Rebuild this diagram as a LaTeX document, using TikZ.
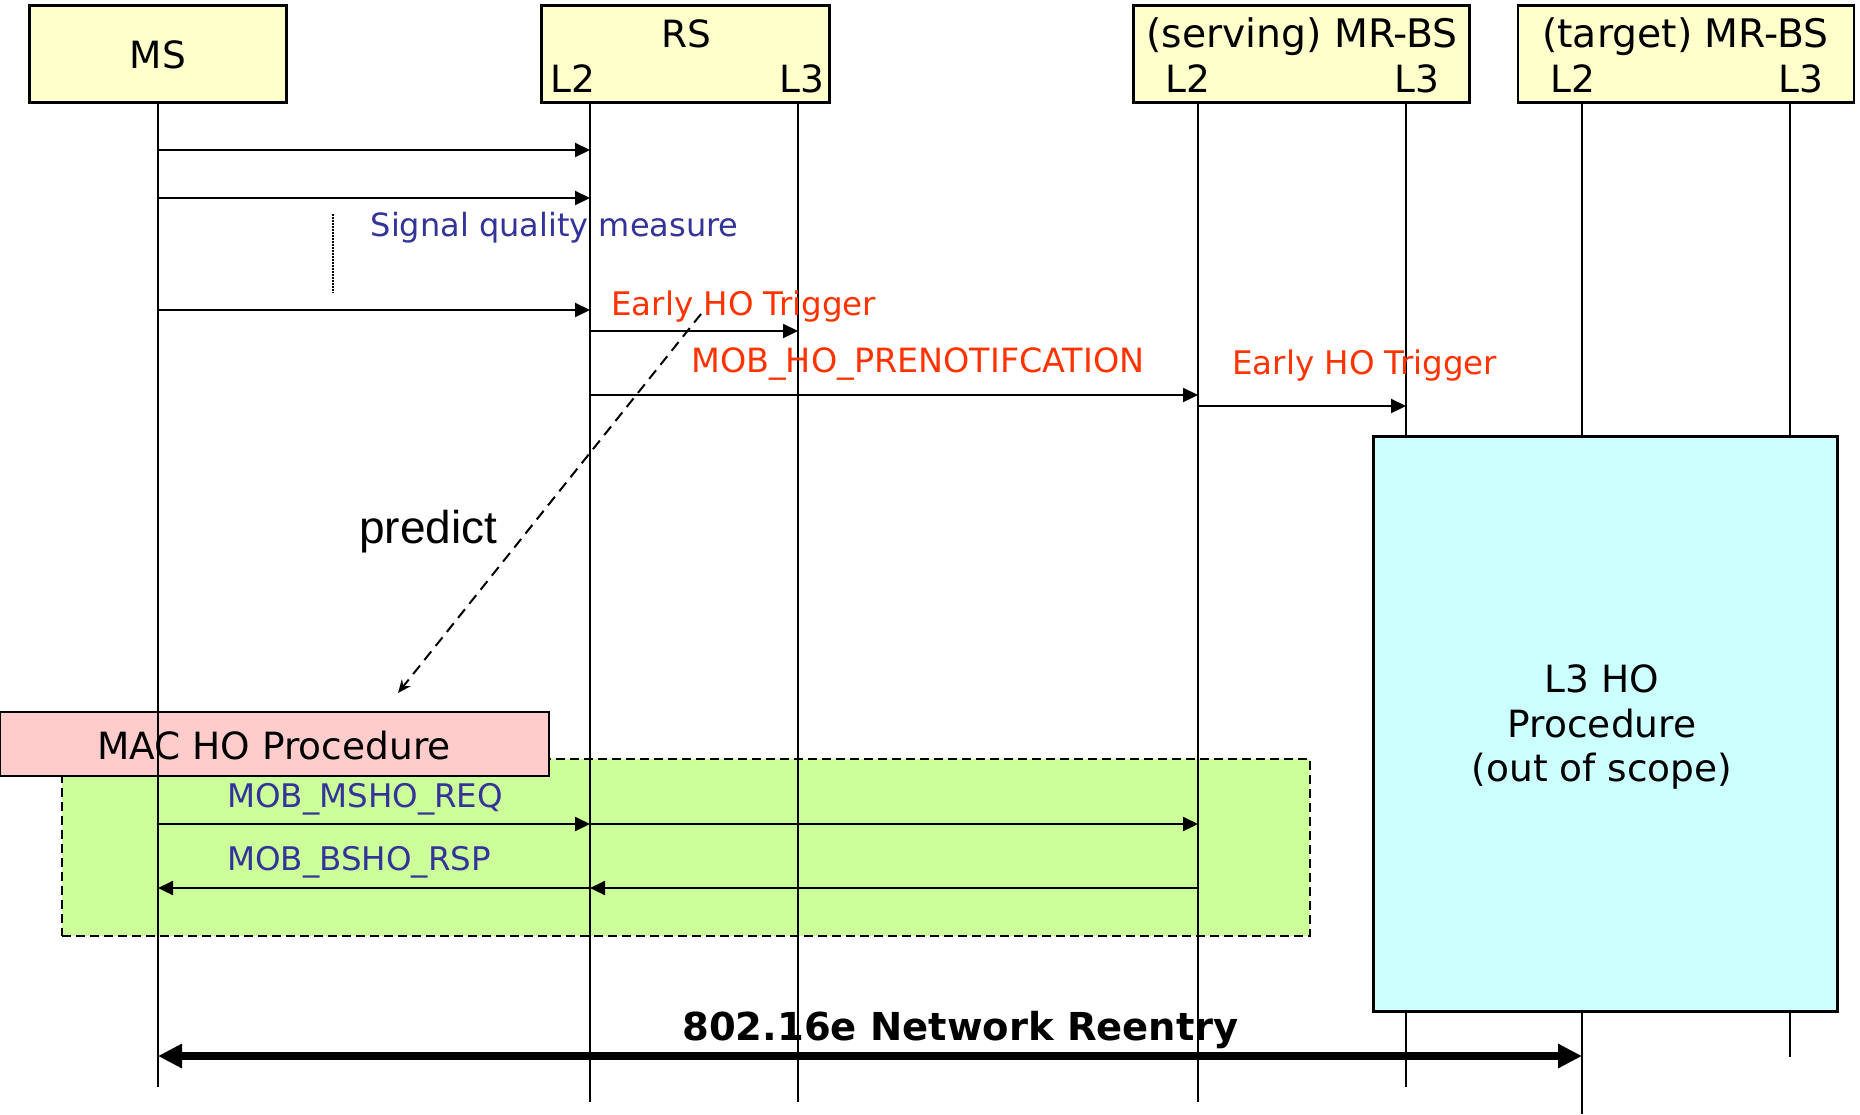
\documentclass[tikz,border=0pt]{standalone}
\usepackage{fontspec}
\setmainfont{DejaVu Sans}
\newfontfamily\predictfont{Liberation Sans}
\usetikzlibrary{arrows.meta,positioning}

\definecolor{headyellow}{HTML}{FFFFCC}
\definecolor{msgblue}{HTML}{333399}
\definecolor{msgred}{HTML}{FF3300}
\definecolor{macpink}{HTML}{FFCCCC}
\definecolor{macgreen}{HTML}{CCFF99}
\definecolor{ltcyan}{HTML}{CCFFFF}

\newcommand{\hdsize}{\fontsize{37.5}{44.5}\selectfont}
\newcommand{\bssize}{\fontsize{39.3}{44.5}\selectfont}
\newcommand{\msgsize}{\fontsize{32.5}{38}\selectfont}

\tikzset{
  head/.style={rectangle, draw=black, line width=2.5pt, fill=headyellow, minimum height=97pt},
  hd/.style={inner sep=0pt, font=\hdsize},
  lifeline/.style={line width=1.6pt},
  msg/.style={line width=2.2pt, -{Triangle[length=15pt,width=14pt]}},
  txt/.style={anchor=base west, inner sep=0pt, font=\msgsize},
}

\begin{document}
\begin{tikzpicture}[x=1pt, y=-1pt]
  \useasboundingbox (0,0) rectangle (1860,1114);

  % procedure areas
  \node[rectangle, draw=black, line width=2pt, dash pattern=on 9pt off 5pt, fill=macgreen,
        minimum width=1248pt, minimum height=177pt] (macarea) at (686,847.5) {};
  \node[rectangle, draw=black, line width=2.5pt, fill=macpink,
        minimum width=549pt, minimum height=64pt] (mac) at (274.5,744) {};
  \node[hd, anchor=base] (macname) at (274,759) {MAC HO Procedure};

  % entities
  \node[head, minimum width=257pt] (msbox) at (158,54.2) {};
  \node[hd, anchor=base] (msname) at (158,68.5) {MS};
  \node[head, minimum width=288pt] (rsbox) at (685.5,54.2) {};
  \node[hd, anchor=base] (rsname) at (686,47) {RS};
  \node[hd, anchor=base west] (rsl2) at (550,92) {L2};
  \node[hd, anchor=base west] (rsl3) at (779,92) {L3};
  \node[head, minimum width=336pt] (svbox) at (1301.5,54.2) {};
  \node[hd, anchor=base west, font=\bssize] (svname) at (1146,47) {(serving) MR-BS};
  \node[hd, anchor=base west] (svl2) at (1165,92) {L2};
  \node[hd, anchor=base west] (svl3) at (1394,92) {L3};
  \node[head, minimum width=336pt] (tgbox) at (1686,54.2) {};
  \node[hd, anchor=base west, font=\bssize] (tgname) at (1542,47) {(target) MR-BS};
  \node[hd, anchor=base west] (tgl2) at (1550,92) {L2};
  \node[hd, anchor=base west] (tgl3) at (1778,92) {L3};

  % lifelines
  \foreach \n/\x/\e in {ms/158/1087, rs2/590/1102, rs3/798/1102, sv2/1198/1102,
                        sv3/1406/1087, tg2/1582/1114, tg3/1790/1057}{
    \coordinate (\n) at (\x,102.7);
    \coordinate (\n end) at (\x,\e);
    \draw[lifeline] (\n) -- (\n end);
  }

  \node[rectangle, draw=black, line width=2.5pt, fill=ltcyan,
        minimum width=464pt, minimum height=575pt] (l3ho) at (1605.5,724) {};
  \node[hd, align=center] (l3name) at (1602,727) {L3 HO\\Procedure\\(out of scope)};

  % message levels
  \foreach \m/\y in {m1/150, m2/198, m3/310, m4/331, m5/395, m6/406, m7/824, m8/888, m9/1056}
    \coordinate (\m) at (0,\y);

  \foreach \a/\b/\m in {ms/rs2/m1, ms/rs2/m2, ms/rs2/m3, rs2/rs3/m4, rs2/sv2/m5, sv2/sv3/m6,
                        ms/rs2/m7, rs2/sv2/m7, sv2/rs2/m8, rs2/ms/m8}
    \draw[msg] (\a |- \m) -- (\b |- \m);

  \node[txt, text=msgblue, font=\fontsize{32}{38}\selectfont] (sqm) at (370.5,236.5) {Signal quality measure};
  \node[txt, text=msgred] (eht1) at (611,315) {Early HO Trigger};
  \node[txt, text=msgred, font=\fontsize{33.4}{38}\selectfont] (prenot) at (691,372.5) {MOB\_HO\_PRENOTIFCATION};
  \node[txt, text=msgred] (eht2) at (1232,374) {Early HO Trigger};
  \node[txt, text=msgblue] (mshoreq) at (227,807.5) {MOB\_MSHO\_REQ};
  \node[txt, text=msgblue] (bshorsp) at (227,870.5) {MOB\_BSHO\_RSP};

  % measuring period
  \coordinate (dotA) at (333,214);
  \coordinate (dotB) at (333,293);
  \draw[line width=2pt, dash pattern=on 1.5pt off 1.5pt] (dotA) -- (dotB);

  % prediction
  \coordinate (predA) at (701,314);
  \coordinate (predB) at (398,693);
  \draw[line width=2pt, dash pattern=on 11pt off 7pt, -{Stealth[length=13pt,width=11pt]}] (predA) -- (predB);
  \node[anchor=base west, inner sep=0pt, font=\predictfont\fontsize{46}{50}\selectfont] (predict) at (359,543) {predict};

  % network reentry
  \draw[line width=8pt, {Triangle[length=24pt,width=23pt]}-{Triangle[length=24pt,width=23pt]}] (ms |- m9) -- (tg2 |- m9);
  \node[anchor=base west, inner sep=0pt, font=\fontsize{38.5}{44}\selectfont\bfseries] (reentry) at (682,1040) {802.16e Network Reentry};
\end{tikzpicture}
\end{document}
